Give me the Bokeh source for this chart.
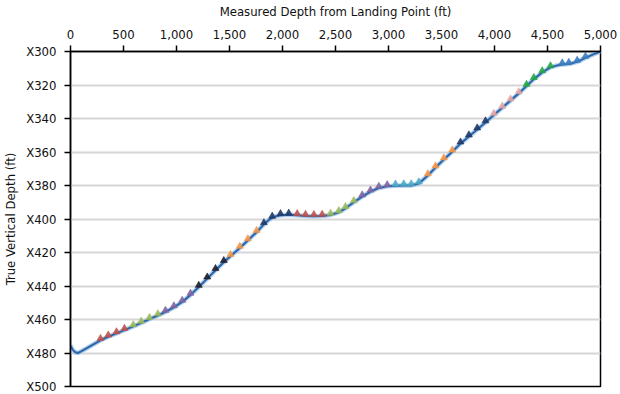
from bokeh.plotting import figure
from bokeh.models import Range1d, NumeralTickFormatter, CustomJSTickFormatter, FixedTicker
from bokeh.embed import file_html
from bokeh.resources import INLINE

# Trajectory (measured depth ft, true vertical depth ft)
md_line = [0, 20, 45, 70, 100, 150, 283, 356, 434, 509, 592, 667, 745, 824, 896, 975,
           1054, 1132, 1210, 1290, 1368, 1446, 1509, 1597, 1673, 1755, 1824, 1870, 1903,
           1940, 1981, 2059, 2139, 2217, 2296, 2374, 2453, 2531, 2594, 2673, 2752, 2830,
           2909, 2988, 3066, 3144, 3214, 3286, 3371, 3443, 3522, 3601, 3679, 3758, 3837,
           3915, 3993, 4073, 4151, 4229, 4302, 4371, 4450, 4528, 4590, 4639, 4701, 4780,
           4858, 4937, 5000]
tvd_line = [475.5, 478.0, 479.6, 480.0, 479.0, 477.3, 472.4, 470.3, 468.3, 466.3, 464.1,
            462.0, 459.8, 457.6, 455.5, 452.8, 449.5, 445.3, 440.6, 435.6, 430.6, 425.8,
            422.2, 417.3, 412.8, 407.9, 403.2, 400.6, 399.3, 398.3, 397.8, 397.5, 397.8,
            398.2, 398.3, 398.2, 397.6, 396.0, 393.6, 390.0, 386.6, 383.7, 381.5, 380.5,
            380.1, 380.0, 380.0, 378.8, 374.0, 369.3, 364.5, 359.8, 355.0, 350.8, 346.6,
            342.4, 337.9, 333.6, 329.3, 325.0, 320.6, 316.5, 312.5, 309.5, 308.3, 307.8,
            307.5, 306.2, 303.8, 301.6, 300.0]

# Survey marker groups
g_md = [
    [283, 356, 434, 509],
    [592, 667, 745, 824],
    [896, 975, 1054, 1132],
    [1210, 1290, 1368, 1446],
    [1509, 1597, 1673, 1755],
    [1824, 1903, 1981, 2059],
    [2139, 2217, 2296, 2374],
    [2453, 2531, 2594, 2673],
    [2752, 2830, 2909, 2988],
    [3066, 3144, 3214, 3286],
    [3371, 3443, 3522, 3601],
    [3679, 3758, 3837, 3915],
    [3993, 4073, 4151, 4229],
    [4302, 4371, 4450, 4528],
    [4639, 4701, 4780, 4858],
]
g_tvd = [
    [471.3, 469.3, 467.3, 465.3],
    [463.1, 461.0, 458.8, 456.6],
    [454.5, 451.8, 448.5, 444.3],
    [439.6, 434.6, 429.6, 424.8],
    [421.2, 416.3, 411.8, 406.9],
    [402.2, 398.3, 396.8, 396.5],
    [396.8, 397.2, 397.3, 397.2],
    [396.6, 395.0, 392.6, 389.0],
    [385.6, 382.7, 380.5, 379.5],
    [379.1, 379.0, 379.0, 377.8],
    [373.0, 368.3, 363.5, 358.8],
    [354.0, 349.8, 345.6, 341.4],
    [336.9, 332.6, 328.3, 324.0],
    [319.6, 315.5, 311.5, 308.5],
    [306.8, 306.5, 305.2, 302.8],
]
g_colors = ["#C0504D", "#9BBB59", "#8064A2", "#1E1E2E", "#F79646", "#1F3864",
            "#C0504D", "#9BBB59", "#8064A2", "#4BACC6", "#F79646", "#1F3864",
            "#E6A5A5", "#22A845", "#3A7DC0"]

x_ticks = [0, 500, 1000, 1500, 2000, 2500, 3000, 3500, 4000, 4500, 5000]
y_ticks = [300, 320, 340, 360, 380, 400, 420, 440, 460, 480, 500]

FONT = "'DejaVu Sans Condensed', 'Liberation Sans', sans-serif"

p = figure(width=620, height=394, output_backend="svg", toolbar_location=None,
           x_axis_location="above",
           x_range=Range1d(0, 5000), y_range=Range1d(500, 300),
           min_border_left=70, min_border_right=20, min_border_top=50, min_border_bottom=8)

p.outline_line_color = "black"
p.outline_line_width = 1.5
p.outline_line_alpha = 1.0

p.xgrid.visible = False
p.ygrid.ticker = FixedTicker(ticks=y_ticks)
p.ygrid.grid_line_color = "#d6d6d6"
p.ygrid.grid_line_width = 2

p.xaxis.ticker = FixedTicker(ticks=x_ticks)
p.yaxis.ticker = FixedTicker(ticks=y_ticks)
p.xaxis.formatter = NumeralTickFormatter(format="0,0")
p.yaxis.formatter = CustomJSTickFormatter(code="return 'X' + tick;")

p.xaxis.axis_label = "Measured Depth from Landing Point (ft)"
p.yaxis.axis_label = "True Vertical Depth (ft)"

for ax in (p.xaxis, p.yaxis):
    ax.axis_line_color = "black"
    ax.axis_line_width = 1.5
    ax.major_tick_line_color = "black"
    ax.major_tick_line_width = 1.5
    ax.major_tick_out = 6
    ax.major_tick_in = 0
    ax.minor_tick_line_color = None
    ax.major_label_text_font = FONT
    ax.major_label_text_font_size = "13px"
    ax.major_label_text_color = "#111111"
    ax.axis_label_text_font = FONT
    ax.axis_label_text_font_size = "13px"
    ax.axis_label_text_font_style = "normal"
    ax.axis_label_text_color = "#111111"

p.xaxis.major_label_standoff = 7
p.xaxis.axis_label_standoff = 8
p.yaxis.major_label_standoff = 8
p.yaxis.axis_label_standoff = 5

# Trajectory line with soft halo
p.line(md_line, tvd_line, line_color="#9cc2e6", line_width=4.5, line_alpha=0.8)
p.line(md_line, tvd_line, line_color="#2b64a8", line_width=2)

for mds, tvds, c in zip(g_md, g_tvd, g_colors):
    p.scatter(mds, tvds, marker="triangle", size=7, fill_color=c, line_color=c,
              line_alpha=0.6, fill_alpha=0.9)

open("out.html", "w").write(file_html(p, INLINE))
